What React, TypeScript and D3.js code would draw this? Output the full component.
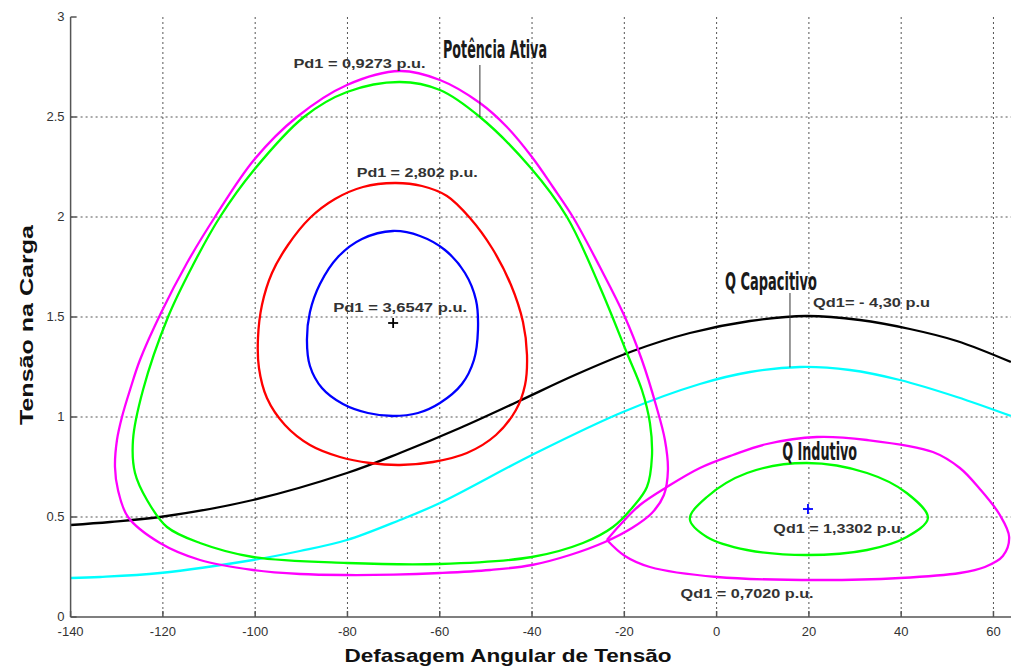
import React from 'react';
import * as d3 from 'd3';

// ---- Data (x: Defasagem Angular, y: Tensão na Carga) ----
const xTicks = [-140, -120, -100, -80, -60, -40, -20, 0, 20, 40, 60];
const yTicks = [0, 0.5, 1, 1.5, 2, 2.5, 3];
const yTickLabels = ['0', '0.5', '1', '1.5', '2', '2.5', '3'];

const pdMagenta: [number, number][] = [
  [-68.63, 2.73], [-59.96, 2.685], [-51.29, 2.57], [-45.44, 2.45], [-40.02, 2.3], [-35.47, 2.15],
  [-31.14, 2.0], [-25.29, 1.75], [-19.87, 1.5], [-16.19, 1.285], [-13.15, 1.06], [-11.2, 0.885],
  [-10.55, 0.735], [-11.42, 0.61], [-14.02, 0.52], [-18.35, 0.445], [-24.2, 0.375], [-31.79, 0.31],
  [-40.02, 0.26], [-49.12, 0.235], [-59.96, 0.22], [-70.0, 0.212], [-80.11, 0.21], [-90.29, 0.215],
  [-100.48, 0.235], [-111.96, 0.285], [-120.63, 0.37], [-127.56, 0.5], [-129.73, 0.635],
  [-130.38, 0.75], [-129.95, 0.885], [-128.87, 1.0], [-127.13, 1.135], [-124.97, 1.285],
  [-120.42, 1.52], [-114.78, 1.77], [-108.72, 2.0], [-100.27, 2.285], [-90.95, 2.5], [-80.11, 2.66],
];
const pdGreen: [number, number][] = [
  [-68.63, 2.675], [-59.96, 2.635], [-51.29, 2.5], [-40.45, 2.25], [-32.43, 2.0], [-25.29, 1.65],
  [-19.44, 1.32], [-16.19, 1.135], [-14.45, 0.97], [-14.02, 0.8], [-15.1, 0.65], [-18.14, 0.55],
  [-22.47, 0.45], [-28.97, 0.37], [-40.02, 0.3], [-59.96, 0.265], [-80.11, 0.27], [-100.48, 0.3],
  [-111.96, 0.37], [-119.11, 0.45], [-123.44, 0.585], [-126.04, 0.72], [-126.48, 0.885],
  [-124.31, 1.135], [-118.89, 1.5], [-113.48, 1.76], [-107.63, 2.0], [-100.27, 2.235],
  [-89.44, 2.5], [-80.11, 2.625],
];
const pdRed: [number, number][] = [
  [-69.7, 2.17], [-63.85, 2.155], [-58.43, 2.105], [-53.45, 1.995], [-48.68, 1.845], [-44.56, 1.66],
  [-41.96, 1.475], [-41.09, 1.31], [-41.52, 1.16], [-43.49, 1.035], [-47.82, 0.91], [-54.11, 0.82],
  [-61.47, 0.775], [-68.63, 0.76], [-75.13, 0.77], [-81.63, 0.8], [-88.13, 0.86], [-93.55, 0.96],
  [-97.45, 1.095], [-99.18, 1.245], [-99.39, 1.395], [-98.53, 1.56], [-96.36, 1.72], [-92.89, 1.86],
  [-88.13, 1.995], [-82.71, 2.09], [-76.64, 2.15],
];
const pdBlue: [number, number][] = [
  [-70.14, 1.93], [-64.29, 1.905], [-58.87, 1.835], [-54.53, 1.72], [-52.15, 1.585], [-51.72, 1.435],
  [-52.59, 1.285], [-55.19, 1.165], [-59.96, 1.07], [-64.72, 1.02], [-70.14, 1.005], [-75.56, 1.02],
  [-80.98, 1.065], [-85.53, 1.145], [-88.13, 1.255], [-88.78, 1.385], [-88.13, 1.525],
  [-85.96, 1.665], [-82.06, 1.8], [-76.86, 1.89],
];
const qCapBlack: [number, number][] = [
  [-140, 0.46], [-131.42, 0.475], [-120.63, 0.5], [-100.48, 0.585], [-80.11, 0.72], [-68.63, 0.82],
  [-55.62, 0.945], [-43.27, 1.075], [-30.7, 1.21], [-18.14, 1.33], [-5.79, 1.42], [7.22, 1.48],
  [19.35, 1.505], [31.05, 1.485], [41.89, 1.44], [52.07, 1.38], [63.77, 1.275],
];
const qCapCyan: [number, number][] = [
  [-140, 0.195], [-133.6, 0.2], [-120.63, 0.22], [-100.48, 0.285], [-90.29, 0.33], [-80.11, 0.385],
  [-68.63, 0.485], [-59.96, 0.57], [-40.02, 0.81], [-20.3, 1.025], [-3.62, 1.165], [7.22, 1.225],
  [18.05, 1.25], [28.88, 1.235], [39.72, 1.185], [52.07, 1.1], [63.77, 1.005],
];
// starts and ends at the cusp on the left
const qIndMagenta: [number, number][] = [
  [-23.77, 0.385], [-20.95, 0.46], [-16.62, 0.56], [-10.77, 0.65], [-3.62, 0.745], [3.53, 0.81],
  [10.9, 0.865], [21.73, 0.9], [32.57, 0.885], [46.87, 0.825], [52.72, 0.745], [57.05, 0.64],
  [61.39, 0.51], [63.4, 0.4], [62.04, 0.305], [58.14, 0.25], [52.72, 0.22], [39.72, 0.195],
  [21.73, 0.185], [0.07, 0.2], [-14.45, 0.25], [-19.87, 0.305], [-23.77, 0.385],
];
const qIndGreen: [number, number][] = [
  [19.5, 0.77], [32.6, 0.72], [41.2, 0.62], [45.8, 0.495], [41.2, 0.4], [32.6, 0.335],
  [19.5, 0.31], [6.6, 0.335], [-2.1, 0.4], [-5.8, 0.49], [-2.1, 0.6], [6.6, 0.72],
];
const centerPd: [number, number] = [-70.1, 1.47];
const centerQd: [number, number] = [19.8, 0.54];

const labels = [
  { text: 'Pd1 = 0,9273 p.u.', x: -91.7, y: 2.745, w: 132 },
  { text: 'Pd1 = 2,802 p.u.', x: -78.0, y: 2.2, w: 121 },
  { text: 'Pd1 = 3,6547 p.u.', x: -83.1, y: 1.525, w: 134 },
  { text: 'Qd1= - 4,30 p.u', x: 20.9, y: 1.55, w: 117 },
  { text: 'Qd1 = 1,3302 p.u.', x: 12.3, y: 0.42, w: 132 },
  { text: 'Qd1 = 0,7020 p.u.', x: -7.8, y: 0.095, w: 133 },
];
const titles = [
  { text: 'Potência Ativa', x: -59.3, y: 2.795, w: 104 },
  { text: 'Q Capacitivo', x: 1.8, y: 1.635, w: 92 },
  { text: 'Q Indutivo', x: 14.2, y: 0.785, w: 75 },
];
const leaders: [number, number, number][] = [
  // x, y from, y to
  [-51.3, 2.76, 2.5],
  [15.9, 1.62, 1.248],
];

const W = 1011;
const H = 666;
const plotL = 70.6;
const plotR = 1011;
const plotT = 17;
const plotB = 617;

export default function App() {
  const x = d3.scaleLinear().domain([-140, 63.8]).range([plotL, plotR]);
  const y = d3.scaleLinear().domain([0, 3]).range([plotB, plotT]);

  const closed = d3
    .line<[number, number]>()
    .x((d) => x(d[0]))
    .y((d) => y(d[1]))
    .curve(d3.curveCatmullRomClosed.alpha(0.5));
  const open = d3
    .line<[number, number]>()
    .x((d) => x(d[0]))
    .y((d) => y(d[1]))
    .curve(d3.curveCatmullRom.alpha(0.5));

  const loops: { d: [number, number][]; c: string; closed: boolean }[] = [
    { d: qCapCyan, c: '#00ffff', closed: false },
    { d: qCapBlack, c: '#000000', closed: false },
    { d: pdMagenta, c: '#ff00ff', closed: true },
    { d: pdGreen, c: '#00ff00', closed: true },
    { d: pdRed, c: '#ff0000', closed: true },
    { d: pdBlue, c: '#0000ff', closed: true },
    { d: qIndMagenta, c: '#ff00ff', closed: false },
    { d: qIndGreen, c: '#00ff00', closed: true },
  ];

  const plus = (p: [number, number], color: string, key: string) => {
    const cx = x(p[0]);
    const cy = y(p[1]);
    return (
      <g key={key} stroke={color} strokeWidth={1.8}>
        <line x1={cx - 5} x2={cx + 5} y1={cy} y2={cy} />
        <line x1={cx} x2={cx} y1={cy - 5} y2={cy + 5} />
      </g>
    );
  };

  return (
    <svg
      width={W}
      height={H}
      style={{ position: 'absolute', left: 0, top: 0, background: '#fff' }}
      fontFamily="'Liberation Sans', Arial, sans-serif"
    >
      <defs>
        <clipPath id="plotclip">
          <rect x={plotL} y={plotT - 2} width={plotR - plotL} height={plotB - plotT + 2} />
        </clipPath>
      </defs>
      <rect width={W} height={H} fill="#fff" />
      {/* grid */}
      <g stroke="#555" strokeWidth={1} strokeDasharray="2,3">
        {xTicks
          .filter((t) => t !== -140)
          .map((t) => (
            <line key={'gx' + t} x1={x(t)} x2={x(t)} y1={plotT} y2={plotB} />
          ))}
        {yTicks
          .filter((t) => t !== 0 && t !== 3)
          .map((t) => (
            <line key={'gy' + t} x1={plotL} x2={plotR} y1={y(t)} y2={y(t)} />
          ))}
      </g>
      {/* curves */}
      <g clipPath="url(#plotclip)" fill="none" strokeWidth={2.3} strokeLinejoin="round">
        {loops.map((l, i) => (
          <path key={'c' + i} d={(l.closed ? closed : open)(l.d) || ''} stroke={l.c} />
        ))}
      </g>
      {plus(centerPd, '#000', 'p1')}
      {plus(centerQd, '#0000ff', 'p2')}
      {/* leader lines */}
      <g stroke="#333" strokeWidth={1}>
        {leaders.map((l, i) => (
          <line key={'l' + i} x1={x(l[0])} x2={x(l[0])} y1={y(l[1])} y2={y(l[2])} />
        ))}
      </g>
      {/* annotation labels */}
      <g fontWeight="bold" fontSize={13} fill="#333">
        {labels.map((l, i) => (
          <text key={'t' + i} x={x(l.x)} y={y(l.y)} textLength={l.w} lengthAdjust="spacingAndGlyphs">
            {l.text}
          </text>
        ))}
      </g>
      <g
        fontWeight="bold"
        fontSize={24}
        fill="#1a1a1a"
        fontFamily="'DejaVu Sans Condensed', 'DejaVu Sans', sans-serif"
        style={{ fontStretch: 'condensed' }}
      >
        {titles.map((l, i) => (
          <text key={'h' + i} x={x(l.x)} y={y(l.y)} textLength={l.w} lengthAdjust="spacingAndGlyphs">
            {l.text}
          </text>
        ))}
      </g>
      {/* axes */}
      <g stroke="#555" strokeWidth={1.5}>
        <line x1={plotL} x2={plotL} y1={plotT} y2={plotB} />
        <line x1={plotL} x2={plotR} y1={plotB} y2={plotB} />
        {xTicks.map((t) => (
          <line key={'tx' + t} x1={x(t)} x2={x(t)} y1={plotB} y2={plotB - 6} />
        ))}
        {yTicks.map((t) => (
          <line key={'ty' + t} x1={plotL} x2={plotL + 6} y1={y(t)} y2={y(t)} />
        ))}
      </g>
      <g fontSize={13} fill="#333" textAnchor="middle">
        {xTicks.map((t) => (
          <text key={'xl' + t} x={x(t)} y={plotB + 19}>
            {String(t)}
          </text>
        ))}
      </g>
      <g fontSize={13} fill="#333" textAnchor="end">
        {yTicks.map((t, i) => (
          <text key={'yl' + t} x={plotL - 6} y={y(t) + 4}>
            {yTickLabels[i]}
          </text>
        ))}
      </g>
      <text
        x={508}
        y={662}
        textAnchor="middle"
        fontWeight="bold"
        fontSize={19}
        fill="#111"
        textLength={327}
        lengthAdjust="spacingAndGlyphs"
      >
        Defasagem Angular de Tensão
      </text>
      <text
        transform="translate(33,325) rotate(-90)"
        textAnchor="middle"
        fontWeight="bold"
        fontSize={18}
        fill="#111"
        textLength={200}
        lengthAdjust="spacingAndGlyphs"
      >
        Tensão na Carga
      </text>
    </svg>
  );
}
